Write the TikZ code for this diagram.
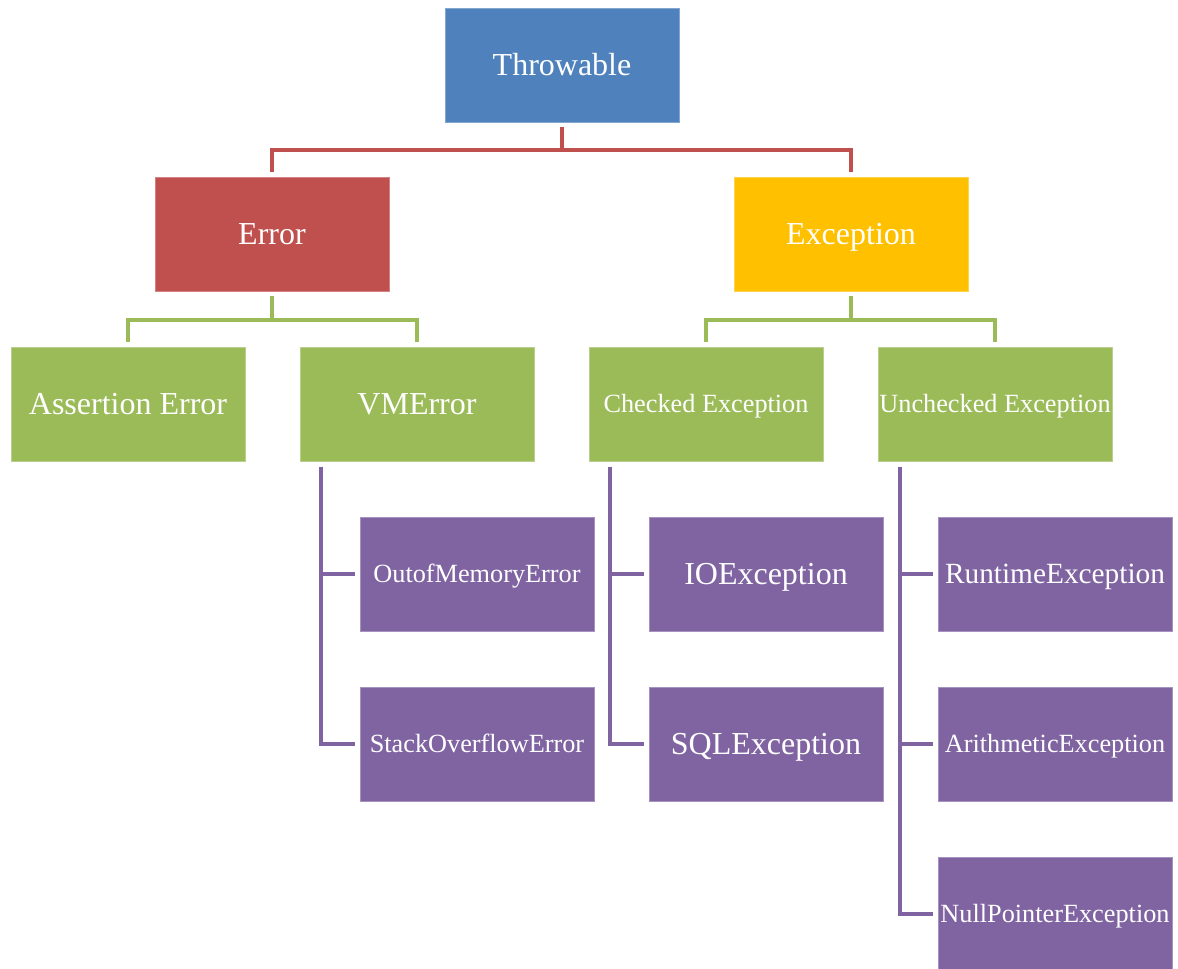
\documentclass[tikz,border=0pt]{standalone}
\usepackage{fontspec}
\setmainfont{Liberation Serif}
\usetikzlibrary{calc}
\definecolor{cblue}{HTML}{4F81BD}
\definecolor{cred}{HTML}{C0504D}
\definecolor{cyel}{HTML}{FFC000}
\definecolor{cgreen}{HTML}{9BBB59}
\definecolor{cpurp}{HTML}{8064A2}
\tikzset{
  box/.style={rectangle, minimum width=175.5pt, minimum height=85.5pt, inner sep=0pt,
    text=white, line width=0.75pt, align=center},
  bigtxt/.style={font=\fontsize{24}{28}\selectfont, text height=18pt, text depth=3pt},
  midtxt/.style={font=\fontsize{19.7}{23}\selectfont, text height=15pt, text depth=2.2pt},
  rttxt/.style={font=\fontsize{22}{26}\selectfont, text height=16.5pt, text depth=2.5pt},
  bluebox/.style={box, fill=cblue, draw=cblue!70!white},
  redbox/.style={box, fill=cred, draw=cred!70!white},
  yelbox/.style={box, fill=cyel, draw=cyel!70!white},
  greenbox/.style={box, fill=cgreen, draw=cgreen!70!white},
  purpbox/.style={box, fill=cpurp, draw=cpurp!70!white},
  conn/.style={line width=3pt, shorten <=3.5pt, shorten >=3.5pt},
  redconn/.style={conn, draw=cred},
  greenconn/.style={conn, draw=cgreen},
  purpconn/.style={conn, draw=cpurp, shorten <=0pt},
}
\begin{document}
\begin{tikzpicture}[x=0.75pt,y=-0.75pt]
\useasboundingbox (0,0) rectangle (1178,968);
\node[bluebox, bigtxt] (thr) at (562,65) {Throwable};
\node[redbox, bigtxt] (err) at (272,234) {Error};
\node[yelbox, bigtxt] (exc) at (851,234) {Exception};
\node[greenbox, bigtxt] (ae) at (128,404) {Assertion Error};
\node[greenbox, bigtxt] (vm) at (417,404) {VMError};
\node[greenbox, midtxt] (ce) at (706,404) {Checked Exception};
\node[greenbox, midtxt] (ue) at (995,404) {Unchecked Exception};
\node[purpbox, midtxt] (oom) at (477,574) {OutofMemoryError};
\node[purpbox, midtxt] (so) at (477,744) {StackOverflowError};
\node[purpbox, bigtxt] (io) at (766,574) {IOException};
\node[purpbox, bigtxt] (sql) at (766,744) {SQLException};
\node[purpbox, rttxt] (rt) at (1055,574) {RuntimeException};
\node[purpbox, midtxt] (ar) at (1055,744) {ArithmeticException};
\node[purpbox, midtxt] (np) at (1055,914) {NullPointerException};
% Throwable
\draw[redconn] (thr.south) -- ++(0,27) -| (err.north);
\draw[redconn] (thr.south) -- ++(0,27) -| (exc.north);
% Error / Exception
\draw[greenconn] (err.south) -- ++(0,28) -| (ae.north);
\draw[greenconn] (err.south) -- ++(0,28) -| (vm.north);
\draw[greenconn] (exc.south) -- ++(0,28) -| (ce.north);
\draw[greenconn] (exc.south) -- ++(0,28) -| (ue.north);
% VMError
\coordinate (vmt) at ($(vm.south west)+(21,5)$);
\draw[purpconn] (vmt) |- (oom.west);
\draw[purpconn] (vmt) |- (so.west);
% Checked
\coordinate (cet) at ($(ce.south west)+(21,5)$);
\draw[purpconn] (cet) |- (io.west);
\draw[purpconn] (cet) |- (sql.west);
% Unchecked
\coordinate (uet) at ($(ue.south west)+(22,5)$);
\draw[purpconn] (uet) |- (rt.west);
\draw[purpconn] (uet) |- (ar.west);
\draw[purpconn] (uet) |- (np.west);
\end{tikzpicture}
\end{document}
